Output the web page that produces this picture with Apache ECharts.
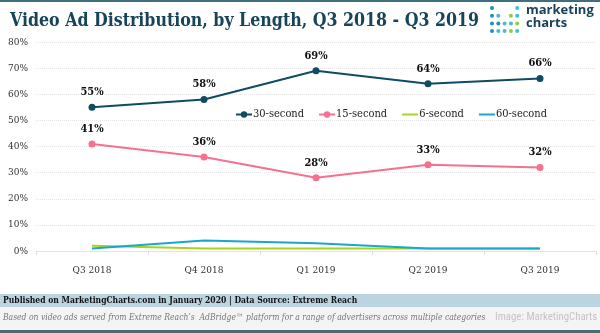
<!DOCTYPE html>
<html>
<head>
<meta charset="utf-8">
<script src="https://cdn.jsdelivr.net/npm/echarts@6/dist/echarts.min.js"></script>
<style>
  html, body { margin: 0; padding: 0; background: #fff; }
  #chart { width: 600px; height: 333px; }
</style>
</head>
<body>
<div id="chart"></div>
<script>
// Quarterly share of video ads by length (%)
const quarters = ['Q3 2018', 'Q4 2018', 'Q1 2019', 'Q2 2019', 'Q3 2019'];
const sec30 = [55, 58, 69, 64, 66];
const sec15 = [41, 36, 28, 33, 32];
const sec6 = [2, 1, 1, 1, 1];
const sec60 = [1, 4, 3, 1, 1];
const seriesNames = ['30-second', '15-second', '6-second', '60-second'];
const seriesColors = ['#0f4c62', '#f7708f', '#a6d41c', '#1aa7cc'];

const slab = '"DejaVu Serif Condensed", "DejaVu Serif", serif';

const chart = echarts.init(document.getElementById('chart'));

// Logo dot grid: [column, row, colour]
const dotCells = [
  [0,0,'#1a93b8'],[4,0,'#3fbfd0'],
  [0,1,'#1a93b8'],[1,1,'#3fbfd0'],[3,1,'#8fd03a'],[4,1,'#3fbfd0'],
  [0,2,'#1a93b8'],[1,2,'#1a93b8'],[2,2,'#3fbfd0'],[3,2,'#3fbfd0'],[4,2,'#8fd03a'],
  [0,3,'#1a93b8'],[1,3,'#3fbfd0'],[2,3,'#3fbfd0'],[3,3,'#8fd03a'],[4,3,'#3fbfd0']
];
const logoDots = dotCells.map(([c, r, col]) => ({
  type: 'circle',
  shape: { cx: 492 + c * 6.3, cy: 8 + r * 7.7, r: 2 },
  style: { fill: col }
}));

function valueLabel() {
  return {
    show: true, position: 'top', distance: 6,
    formatter: p => p.value + '%',
    fontFamily: slab, fontWeight: 'bold', fontSize: 11, color: '#111'
  };
}

const hiddenSymbol = { color: 'rgba(0,0,0,0)', borderWidth: 0 };

chart.setOption({
  animation: false,
  backgroundColor: '#fff',
  title: {
    text: 'Video Ad Distribution, by Length, Q3 2018 - Q3 2019',
    left: 5, top: 7,
    textStyle: { fontFamily: slab, fontWeight: 'bold', fontSize: 17.6, color: '#17445a' }
  },
  legend: {
    top: 104, left: 230,
    itemWidth: 16, itemHeight: 8, itemGap: 14,
    textStyle: { fontFamily: slab, fontSize: 11, color: '#222', padding: [0, 0, 0, -4] },
    data: [
      { name: seriesNames[0] },
      { name: seriesNames[1] },
      { name: seriesNames[2], itemStyle: hiddenSymbol },
      { name: seriesNames[3], itemStyle: hiddenSymbol }
    ]
  },
  grid: { left: 36, right: 4, top: 42, bottom: 82, containLabel: false },
  xAxis: {
    type: 'category',
    data: quarters,
    boundaryGap: true,
    axisLine: { lineStyle: { color: '#ddd', type: 'dotted' } },
    axisTick: { show: true, lineStyle: { color: '#ddd' }, length: 4 },
    axisLabel: { fontFamily: slab, fontSize: 10, color: '#333', margin: 14 }
  },
  yAxis: {
    type: 'value', min: 0, max: 80, interval: 10,
    axisLine: { show: false }, axisTick: { show: false },
    splitLine: { lineStyle: { color: '#e4e4e4', type: 'dotted' } },
    axisLabel: { formatter: '{value}%', fontFamily: slab, fontSize: 10, color: '#333', margin: 8 }
  },
  series: [
    {
      name: seriesNames[0], type: 'line', data: sec30,
      color: seriesColors[0], symbol: 'circle', symbolSize: 7,
      lineStyle: { width: 2 }, label: valueLabel()
    },
    {
      name: seriesNames[1], type: 'line', data: sec15,
      color: seriesColors[1], symbol: 'circle', symbolSize: 7,
      lineStyle: { width: 2 }, label: valueLabel()
    },
    {
      name: seriesNames[2], type: 'line', data: sec6,
      color: seriesColors[2], symbol: 'none', lineStyle: { width: 2 }
    },
    {
      name: seriesNames[3], type: 'line', data: sec60,
      color: seriesColors[3], symbol: 'none', lineStyle: { width: 2 }
    }
  ],
  graphic: [
    { type: 'rect', shape: { x: 0, y: 0, width: 600, height: 2 }, style: { fill: '#3f6f7d' } },
    ...logoDots,
    { type: 'text', left: 526, top: 4,
      style: { text: 'marketing\ncharts', fontFamily: '"Open Sans", sans-serif', fontWeight: 'bold', fontSize: 13, lineHeight: 13, fill: '#17445a' } },
    { type: 'rect', shape: { x: 0, y: 294, width: 600, height: 13 }, style: { fill: '#bcd4e0' } },
    { type: 'rect', shape: { x: 0, y: 307, width: 600, height: 23 }, style: { fill: '#f4f4f4' } },
    { type: 'text', left: 3, top: 296,
      style: { text: 'Published on MarketingCharts.com in January 2020 | Data Source: Extreme Reach', fontFamily: slab, fontWeight: 'bold', fontSize: 8.5, fill: '#111' } },
    { type: 'text', left: 3, top: 313,
      style: { text: 'Based on video ads served from Extreme Reach\u2019s  AdBridge\u2122 platform for a range of advertisers across multiple categories', fontFamily: slab, fontStyle: 'italic', fontSize: 8.5, fill: '#777' } },
    { type: 'text', left: 495, top: 312,
      style: { text: 'Image: MarketingCharts', fontFamily: '"Liberation Sans Narrow", "Roboto Condensed", sans-serif', fontSize: 10.8, fill: '#c4c4c4' } },
    { type: 'rect', shape: { x: 0, y: 330, width: 600, height: 3 }, style: { fill: '#3f6f7d' } }
  ]
});
</script>
</body>
</html>
